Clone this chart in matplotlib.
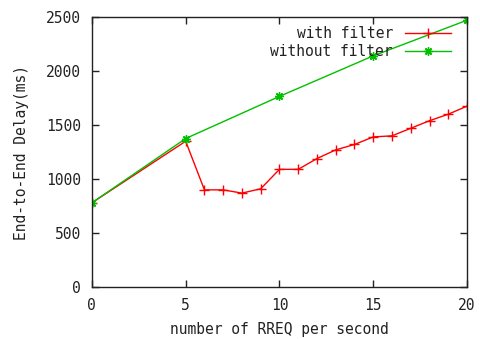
import matplotlib
matplotlib.use("Agg")
import matplotlib.pyplot as plt

# data
x_filter = [0, 5, 6, 7, 8, 9, 10, 11, 12, 13, 14, 15, 16, 17, 18, 19, 20]
y_filter = [780, 1350, 900, 900, 870, 910, 1090, 1090, 1190, 1270, 1320,
            1390, 1400, 1470, 1540, 1600, 1675]
x_nofilter = [0, 5, 10, 15, 20]
y_nofilter = [780, 1375, 1765, 2140, 2470]

xticks = [0, 5, 10, 15, 20]
yticks = [0, 500, 1000, 1500, 2000, 2500]

plt.rcParams["font.family"] = ["DejaVu Sans Mono"]
plt.rcParams["font.size"] = 10.5

fig = plt.figure(figsize=(4.81, 3.39), dpi=100)
ax = fig.add_axes([0.191, 0.153, 0.780, 0.797])

ax.plot(x_filter, y_filter, color="#ff0000", lw=1.0, marker="+", ms=7,
        mew=1.0, label="with filter")
ax.plot(x_nofilter, y_nofilter, color="#00c000", lw=1.0, marker=(8, 2, 0),
        ms=6, mew=1.0, label="without filter")

ax.set_xlim(0, 20)
ax.set_ylim(0, 2500)
ax.set_xticks(xticks)
ax.set_yticks(yticks)
ax.tick_params(direction="in", length=5, width=1.0, top=True, right=True,
               pad=8, colors="#222222", labelcolor="#222222")
for s in ax.spines.values():
    s.set_linewidth(1.0)
    s.set_color("#222222")

ax.set_xlabel("number of RREQ per second", labelpad=6, color="#222222")
ax.set_ylabel("End-to-End Delay(ms)", labelpad=12, color="#222222")

leg = ax.legend(loc="upper right", frameon=False, markerfirst=False,
                handlelength=3.2, borderaxespad=0.3, labelspacing=0.25,
                handletextpad=0.8, bbox_to_anchor=(0.985, 1.005))
for t in leg.get_texts():
    t.set_ha("right")
    t.set_color("#222222")
leg._legend_box.align = "right"

fig.savefig("out.png", dpi=100)
